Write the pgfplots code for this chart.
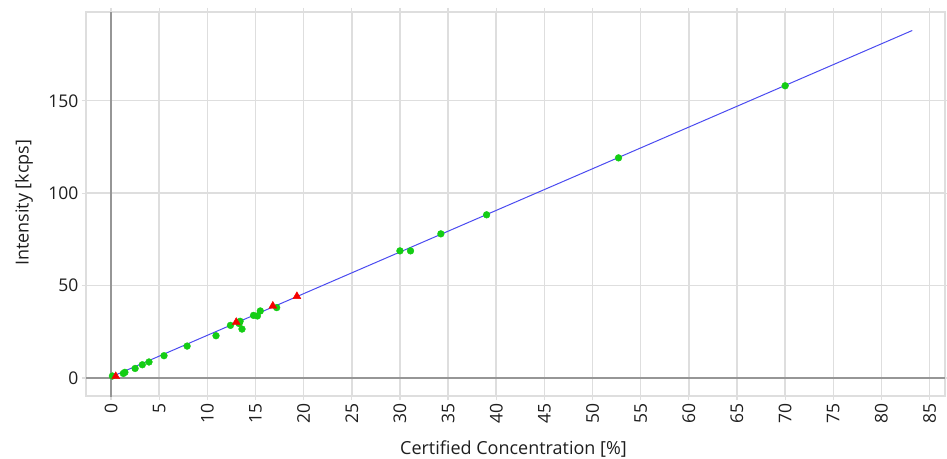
\documentclass[border=0pt]{standalone}
\usepackage{pgfplots}
\pgfplotsset{compat=1.18}
\usepackage{fontspec}
\setmainfont{Open Sans}
\definecolor{gridc}{RGB}{222,222,222}
\definecolor{axc}{RGB}{150,150,150}
\definecolor{ptg}{RGB}{20,205,20}
\definecolor{ptr}{RGB}{245,0,0}
\definecolor{linec}{RGB}{75,75,240}
\definecolor{txt}{RGB}{30,30,30}
\begin{document}
\begin{tikzpicture}
\begin{axis}[
 scale only axis, width=859pt, height=384pt,
 xmin=-2.6, xmax=86.6, ymin=-9.7, ymax=198,
 xtick={0,5,...,85}, ytick={0,50,100,150},
 grid=major, grid style={gridc, line width=1.5pt},
 axis line style={gridc, line width=1.5pt},
 tick style={gridc, line width=1.2pt}, tick align=outside, major tick length=4pt,
 x tick label style={rotate=90, anchor=east},
 ticklabel style={font=\fontsize{17.5}{19}\selectfont, text=txt},
 /pgf/number format/assume math mode=true,
 xlabel={Certified Concentration [\%]}, ylabel={Intensity [kcps]},
 label style={font=\fontsize{18}{20}\selectfont, text=txt},
 xlabel style={at={(rel axis cs:0.4977,-0.138)}, anchor=center},
 ylabel style={at={(rel axis cs:-0.0722,0.503)}, anchor=center},
]
\addplot[axc, line width=2pt, forget plot] coordinates {(0,-11) (0,198)};
\addplot[axc, line width=2pt, forget plot] coordinates {(-2.6,0) (86.6,0)};
\addplot[linec, line width=1pt] coordinates {(0,0.6) (83.2,188)};
\addplot[only marks, mark=*, mark size=3.4pt, color=ptg] coordinates {
(0.14,1.1) (1.28,2.5) (1.44,3.1) (2.5,5.2) (3.25,7.2) (3.94,8.7) (5.5,12.1)
(7.9,17.3) (10.9,22.9) (12.4,28.5) (13.3,29.5) (13.4,30.7) (13.6,26.5)
(14.8,33.9) (15.2,33.6) (15.5,36.3) (17.2,38.1) (30.0,68.8) (31.1,68.8)
(34.25,78.0) (39.0,88.3) (52.7,119.1) (70.0,158.1)};
\addplot[only marks, mark=triangle*, mark size=4.6pt, color=ptr] coordinates {
(0.49,0.9) (13.0,30.2) (16.8,39.0) (19.3,44.2)};
\end{axis}
\pgfresetboundingbox
\path ([shift={(-86pt,-62pt)}]current axis.south west) rectangle ([shift={(2pt,12pt)}]current axis.north east);
\end{tikzpicture}
\end{document}
